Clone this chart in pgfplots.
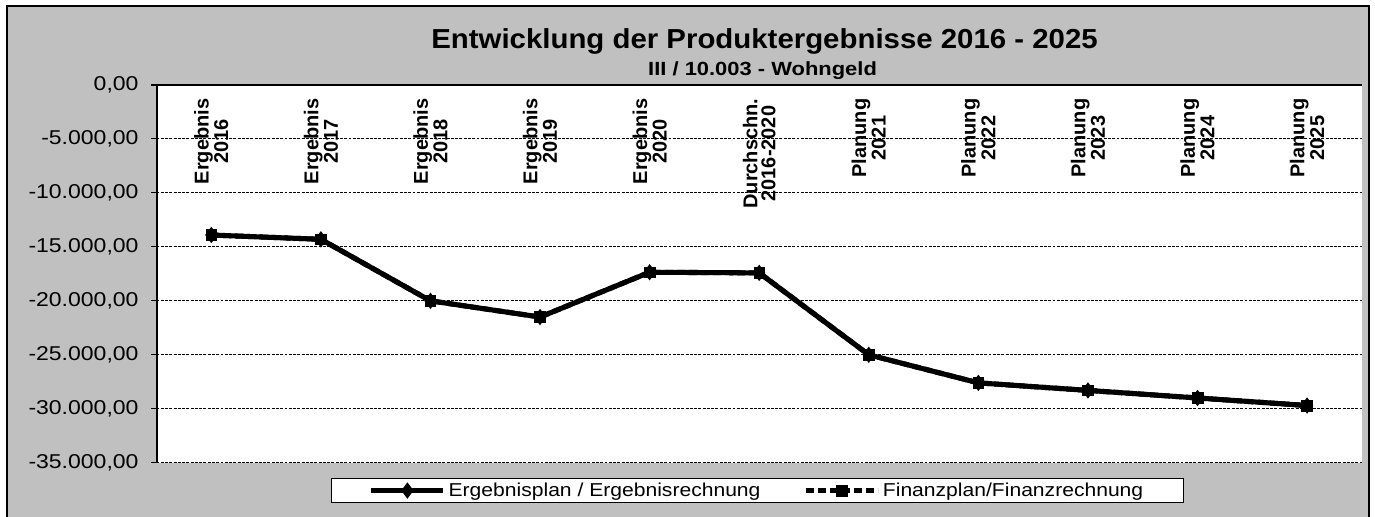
\documentclass[border=0pt]{standalone}
\usepackage{fontspec}
\setmainfont{Liberation Sans}
\newfontfamily\widefont[FakeStretch=1.15]{Liberation Sans}
\newfontfamily\titlefont[FakeStretch=1.07]{Liberation Sans}
\newfontfamily\legendfont[FakeStretch=1.13]{Liberation Sans}
\usepackage{pgfplots}
\pgfplotsset{compat=1.18}
\definecolor{panelgrey}{RGB}{192,192,192}
\tikzset{cat/.style={rotate=90, anchor=east, align=center, inner sep=0pt,
    font=\bfseries\fontsize{15}{13.5}\selectfont}}

\begin{document}
\begin{tikzpicture}
\useasboundingbox (0,0) rectangle (1031.25pt,387.75pt);
\fill[panelgrey] (4.9pt,-5pt) rectangle (1026.75pt,382.9pt);
\draw[line width=1.5pt, black] (4.9pt,-5pt) rectangle (1026.75pt,382.9pt);

\node[font=\titlefont\bfseries\fontsize{20.6}{24}\selectfont, anchor=base] at (573.4pt,351pt)
  {Entwicklung der Produktergebnisse 2016 - 2025};
\node[font=\widefont\bfseries\fontsize{14.3}{17}\selectfont, anchor=base] at (571.9pt,330.75pt)
  {III / 10.003 - Wohngeld};

\begin{axis}[
  at={(117.4pt,40.7pt)}, anchor=south west,
  scale only axis, width=904pt, height=283.3pt,
  xmin=-0.5, xmax=10.5, ymin=-35000, ymax=0,
  axis x line*=top, axis y line*=left,
  axis line style={-, line width=1.5pt, black},
  axis background/.style={fill=white},
  xtick=\empty,
  minor xtick={0.5,1.5,...,9.5},
  ytick={-35000,-30000,...,0},
  scaled y ticks=false,
  ymajorgrids, xminorgrids,
  grid style={black, line width=0.7pt, dash pattern=on 2.2pt off 1pt},
  minor grid style={black, line width=0.7pt, dash pattern=on 2.2pt off 1pt},
  tick align=outside, major tick length=4pt, minor tick length=0pt,
  ytick style={black, line width=0.8pt},
  yticklabel style={font=\widefont\fontsize{15}{18}\selectfont, xshift=-6pt},
  /pgf/number format/fixed,
  /pgf/number format/fixed zerofill,
  /pgf/number format/precision=2,
  /pgf/number format/use comma,
  /pgf/number format/1000 sep={.},
  /pgf/number format/assume math mode=true,
  legend image code/.code={
    \draw[mark repeat=2,mark phase=2,#1] plot coordinates {(0pt,0pt) (27pt,0pt) (54pt,0pt)};
  },
  legend style={at={(0.4985,-0.0736)}, anchor=center, legend columns=2,
    draw=black, line width=0.6pt, fill=white,
    font=\legendfont\fontsize{14}{16}\selectfont,
    inner xsep=28pt, inner ysep=1pt,
    /tikz/every even column/.append style={column sep=30pt}},
]
\addplot[black, line width=3.8pt, mark=diamond*, mark size=3pt, mark options={solid}]
  coordinates {(0,-13900) (1,-14300) (2,-20000) (3,-21500) (4,-17350) (5,-17410)
               (6,-25000) (7,-27600) (8,-28300) (9,-29000) (10,-29700)};
\addlegendentry{Ergebnisplan / Ergebnisrechnung}
\addplot[black, line width=3.8pt, dash pattern=on 6pt off 3pt, mark=square*, mark size=4pt,
  mark options={solid, line width=0.5pt}]
  coordinates {(0,-13900) (1,-14300) (2,-20000) (3,-21500) (4,-17350) (5,-17410)
               (6,-25000) (7,-27600) (8,-28300) (9,-29000) (10,-29700)};
\addlegendentry{Finanzplan/Finanzrechnung}

\node[cat] at ([yshift=-10pt]axis cs:0,0) {Ergebnis\\2016};
\node[cat] at ([yshift=-10pt]axis cs:1,0) {Ergebnis\\2017};
\node[cat] at ([yshift=-10pt]axis cs:2,0) {Ergebnis\\2018};
\node[cat] at ([yshift=-10pt]axis cs:3,0) {Ergebnis\\2019};
\node[cat] at ([yshift=-10pt]axis cs:4,0) {Ergebnis\\2020};
\node[cat] at ([yshift=-10pt]axis cs:5,0) {Durchschn.\\2016-2020};
\node[cat] at ([yshift=-10pt]axis cs:6,0) {Planung\\2021};
\node[cat] at ([yshift=-10pt]axis cs:7,0) {Planung\\2022};
\node[cat] at ([yshift=-10pt]axis cs:8,0) {Planung\\2023};
\node[cat] at ([yshift=-10pt]axis cs:9,0) {Planung\\2024};
\node[cat] at ([yshift=-10pt]axis cs:10,0) {Planung\\2025};
\end{axis}
\end{tikzpicture}
\end{document}
